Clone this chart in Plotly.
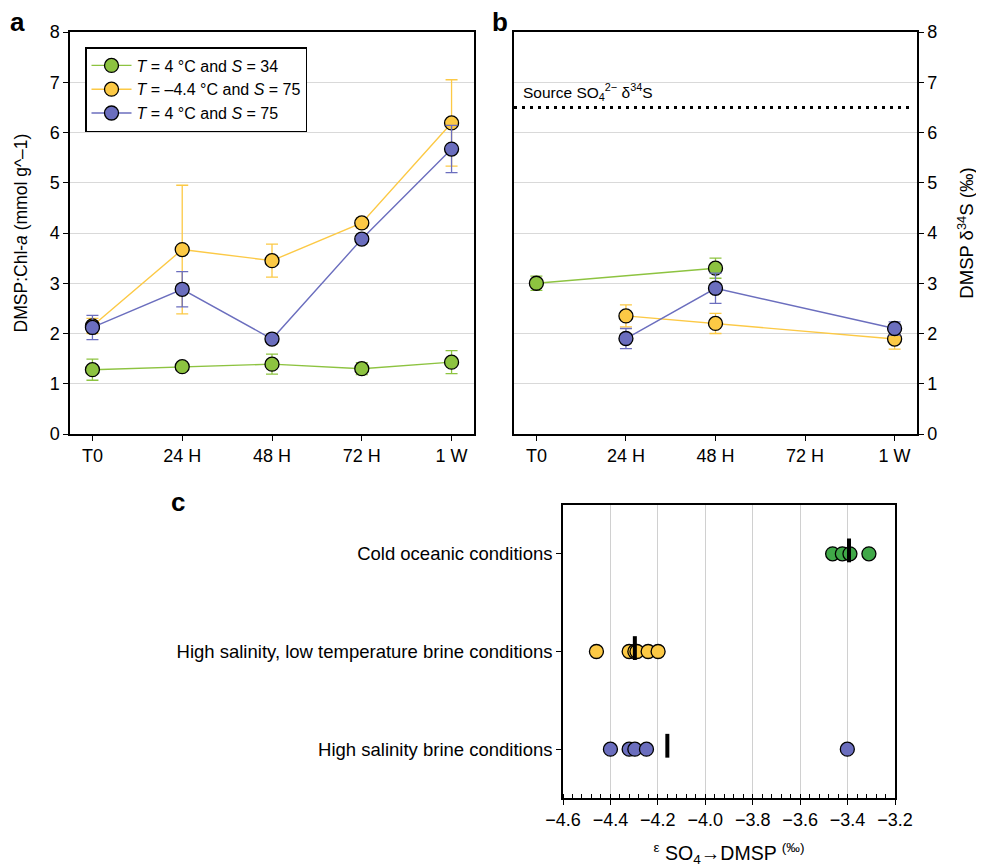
import plotly.graph_objects as go

# ---------------- data ----------------
TIMES = ["T0", "24 H", "48 H", "72 H", "1 W"]
SERIES_NAMES = ["<i>T</i> = 4 °C and <i>S</i> = 34",
                "<i>T</i> = –4.4 °C and <i>S</i> = 75",
                "<i>T</i> = 4 °C and <i>S</i> = 75"]

# panel a: DMSP:Chl-a
A_GREEN = [1.28, 1.34, 1.39, 1.30, 1.43]
A_GREEN_ERR = [0.21, 0.06, 0.20, 0.12, 0.23]
A_YELLOW = [2.15, 3.67, 3.45, 4.20, 6.19]
A_YELLOW_ERR = [0.15, 1.28, 0.33, 0.10, 0.86]
A_BLUE = [2.12, 2.88, 1.89, 3.88, 5.67]
A_BLUE_ERR = [0.24, 0.35, 0.06, 0.06, 0.47]

# panel b: DMSP d34S
B_GREEN = [3.00, None, 3.30, None, None]
B_GREEN_ERR = [0.14, 0, 0.20, 0, 0]
B_YELLOW = [None, 2.35, 2.20, None, 1.89]
B_YELLOW_ERR = [0, 0.22, 0.20, 0, 0.20]
B_BLUE = [None, 1.90, 2.90, None, 2.10]
B_BLUE_ERR = [0, 0.20, 0.30, 0, 0.13]
SOURCE_D34S = 6.5

# panel c: fractionation
C_CATEGORIES = ["Cold oceanic conditions",
                "High salinity, low temperature brine conditions",
                "High salinity brine conditions"]
C_COLD = [-3.463, -3.422, -3.390, -3.310]
C_COLD_MEAN = -3.394
C_HSLT = [-4.459, -4.321, -4.297, -4.288, -4.241, -4.199]
C_HSLT_MEAN = -4.297
C_HS = [-4.400, -4.321, -4.297, -4.248, -3.401]
C_HS_MEAN = -4.160

# ---------------- style ----------------
GREEN = "#8DC340"
YELLOW = "#FCC945"
BLUE = "#6B6EBE"
GREEN_C = "#40A848"
FONT = "Liberation Sans, Arial, sans-serif"
W, H = 984, 866
PAGE_OFFSET = 8  # default body margin of the html page


def px_x(p):
    return (p - PAGE_OFFSET) / W


def px_y(p):
    return 1 - (p - PAGE_OFFSET) / H


fig = go.Figure()

colors = [GREEN, YELLOW, BLUE]
a_vals = [A_GREEN, A_YELLOW, A_BLUE]
a_errs = [A_GREEN_ERR, A_YELLOW_ERR, A_BLUE_ERR]
b_vals = [B_GREEN, B_YELLOW, B_BLUE]
b_errs = [B_GREEN_ERR, B_YELLOW_ERR, B_BLUE_ERR]

for i in range(3):
    fig.add_trace(go.Scatter(
        x=TIMES, y=a_vals[i], mode="lines+markers", name=SERIES_NAMES[i],
        line=dict(color=colors[i], width=1.4),
        marker=dict(size=14, color=colors[i], line=dict(color="black", width=1.3)),
        error_y=dict(type="data", array=a_errs[i], color=colors[i], thickness=1.3, width=6),
        xaxis="x", yaxis="y", showlegend=True))

for i in range(3):
    fig.add_trace(go.Scatter(
        x=TIMES, y=b_vals[i], mode="lines+markers", name=SERIES_NAMES[i],
        line=dict(color=colors[i], width=1.4), connectgaps=True,
        marker=dict(size=14, color=colors[i], line=dict(color="black", width=1.3)),
        error_y=dict(type="data", array=b_errs[i], color=colors[i], thickness=1.3, width=6),
        xaxis="x2", yaxis="y2", showlegend=False))

c_groups = [(C_COLD, C_COLD_MEAN, GREEN_C, 2),
            (C_HSLT, C_HSLT_MEAN, YELLOW, 1),
            (C_HS, C_HS_MEAN, BLUE, 0)]
MEAN_OFFSET = 0.035
for vals, mean, col, ypos in c_groups:
    fig.add_trace(go.Scatter(
        x=vals, y=[ypos] * len(vals), mode="markers",
        marker=dict(size=14, color=col, line=dict(color="black", width=1.3)),
        xaxis="x3", yaxis="y3", showlegend=False))
    fig.add_trace(go.Scatter(
        x=[mean], y=[ypos + MEAN_OFFSET], mode="markers",
        marker=dict(symbol="line-ns", size=17, color="black",
                    line=dict(color="black", width=4)),
        xaxis="x3", yaxis="y3", showlegend=False))


def ax(size=18):
    return dict(showline=True, linecolor="black", linewidth=1.5, mirror=True,
                ticks="outside", ticklen=5, tickwidth=1.3, tickcolor="black",
                tickfont=dict(size=size, color="black", family=FONT), zeroline=False,
                automargin=False)


fig.update_layout(
    width=W, height=H,
    margin=dict(l=0, r=0, t=0, b=0, autoexpand=False),
    paper_bgcolor="white", plot_bgcolor="white",
    font=dict(family=FONT, color="black", size=16),
    xaxis=dict(domain=[px_x(70), px_x(474)], anchor="y", type="category",
               range=[-0.25, 4.25], showgrid=False, **ax()),
    yaxis=dict(domain=[px_y(434), px_y(32)], anchor="x", range=[0, 8], dtick=1,
               showgrid=True, gridcolor="#d9d9d9", gridwidth=1.3,
               title=dict(text="DMSP:Chl-<i>a</i> (mmol g^–1)", font=dict(size=17.5), standoff=18),
               **ax()),
    xaxis2=dict(domain=[px_x(514), px_x(917)], anchor="y2", type="category",
                range=[-0.25, 4.25], showgrid=False, **ax()),
    yaxis2=dict(domain=[px_y(434), px_y(32)], anchor="x2", range=[0, 8], dtick=1,
                side="right", showgrid=True, gridcolor="#d9d9d9", gridwidth=1.3,
                title=dict(text="DMSP δ<sup>34</sup>S (‰)", font=dict(size=18.5), standoff=24),
                **ax()),
    xaxis3=dict(domain=[px_x(563), px_x(895)], anchor="y3", range=[-4.6, -3.2],
                tick0=-4.6, dtick=0.2, tickformat=".1f",
                showgrid=True, gridcolor="#d0d0d0", gridwidth=1.3,
                minor=dict(ticks="inside", dtick=0.04, tick0=-4.6, ticklen=4,
                           tickwidth=1.2, tickcolor="black", showgrid=False),
                title=dict(text="<sup>ε</sup> SO<sub>4</sub>→DMSP <sup>(‰)</sup>",
                           font=dict(size=19.5), standoff=17),
                **ax()),
    yaxis3=dict(domain=[px_y(798), px_y(505)], anchor="x3", range=[-0.5, 2.5],
                tickvals=[2, 1, 0], ticktext=C_CATEGORIES, showgrid=False,
                **ax(18.5)),
    legend=dict(x=px_x(85), y=px_y(47), xanchor="left", yanchor="top",
                bordercolor="black", borderwidth=1.5, bgcolor="white",
                font=dict(size=16, family=FONT), tracegroupgap=0,
                itemwidth=40),
)

fig.add_shape(type="line", xref="x2 domain", yref="y2", x0=0, x1=0.99,
              y0=SOURCE_D34S, y1=SOURCE_D34S,
              line=dict(color="black", width=3, dash="3px,5px"))

fig.add_annotation(xref="x2 domain", yref="y2", x=0.017, y=SOURCE_D34S,
                   xanchor="left", yanchor="bottom", yshift=2, showarrow=False,
                   text="Source SO<sub>4</sub><sup>2−</sup> δ<sup>34</sup>S",
                   font=dict(size=15.5, family=FONT, color="black"))

for lab, x, y in [("a", 17, 22), ("b", 500, 22), ("c", 178, 502)]:
    fig.add_annotation(xref="paper", yref="paper", x=px_x(x), y=px_y(y),
                       xanchor="center", yanchor="middle", showarrow=False,
                       text=f"<b>{lab}</b>", font=dict(size=26, family=FONT, color="black"))

fig.write_html("out.html")
